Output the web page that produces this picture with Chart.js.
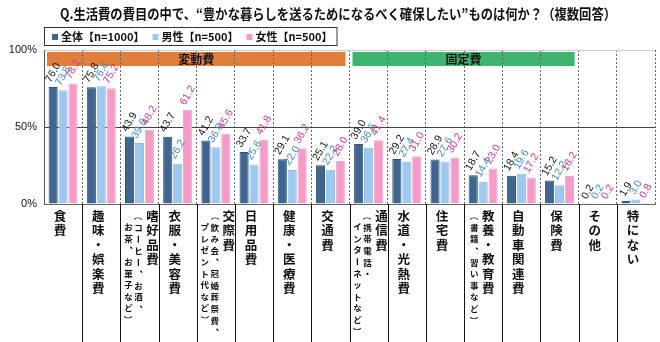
<!DOCTYPE html>
<html>
<head>
<meta charset="utf-8">
<script src="https://cdn.jsdelivr.net/npm/chart.js@4.4.0/dist/chart.umd.min.js"></script>
<style>
    html, body { margin: 0; padding: 0; background: #fff; }
    #wrap { width: 660px; height: 342px; }
</style>
</head>
<body>
<div id="wrap"><canvas id="grafico"></canvas></div>
<script>
// Dados
const titulo = 'Q.生活費の費目の中で、“豊かな暮らしを送るためになるべく確保したい”ものは何か？（複数回答）';
const categorias = ['食費', '趣味・娯楽費', '嗜好品費', '衣服・美容費', '交際費', '日用品費', '健康・医療費', '交通費',
    '通信費', '水道・光熱費', '住宅費', '教養・教育費', '自動車関連費', '保険費', 'その他', '特にない'];
const subRotulos = [[], [], ['（コーヒー、お酒、', 'お茶、お菓子など）'], [], ['（飲み会、冠婚葬祭費、', 'プレゼント代など）'], [], [], [],
    ['（携帯電話・', 'インターネットなど）'], [], [], ['（書籍、習い事など）'], [], [], [], []];
const series = ['全体【n=1000】', '男性【n=500】', '女性【n=500】'];
const valoresTotal = [76.0, 75.8, 43.9, 43.7, 41.2, 33.7, 29.1, 25.1, 39.0, 29.2, 28.9, 18.7, 18.4, 15.2, 0.2, 1.9];
const valoresHomens = [73.8, 76.4, 39.6, 26.2, 36.8, 25.6, 22.0, 22.2, 36.6, 27.4, 27.6, 14.4, 19.6, 12.2, 0.2, 3.0];
const valoresMulheres = [78.2, 75.2, 48.2, 61.2, 45.6, 41.8, 36.2, 28.0, 41.4, 31.0, 30.2, 23.0, 17.2, 18.2, 0.2, 0.8];
const grupos = ['変動費', '固定費'];
const gruposInicio = [0, 8];
const gruposFim = [7, 13];
const ticksY = [0, 50, 100];

const coresBarra = ['#3F6690', '#9DC9F1', '#F59BC8'];
const coresRotulo = ['#111', '#3A8DC6', '#D6348C'];
const coresGrupo = ['#E07E3A', '#3DB46F'];
const fonteJP = '"Noto Sans CJK JP", "Noto Sans", sans-serif';
const fonteNum = '"Liberation Sans", Arial, sans-serif';

// desenha uma coluna de texto vertical
function colunaVertical(ctx, texto, x, y0, passo) {
    [...texto].forEach((ch, i) => {
        const y = y0 + i * passo;
        ctx.save();
        if ('ー（）'.includes(ch)) {
            ctx.translate(x, y);
            ctx.rotate(Math.PI / 2);
            ctx.fillText(ch, 0, 0);
        } else if (ch === '、') {
            ctx.fillText(ch, x + passo * 0.45, y - passo * 0.45);
        } else {
            ctx.fillText(ch, x, y);
        }
        ctx.restore();
    });
}

const pluginDesenho = {
    id: 'desenho',
    beforeDraw(chart) {
        const { ctx, chartArea } = chart;
        const x = chart.scales.x;
        const meia = (x.getPixelForValue(1) - x.getPixelForValue(0)) / 2;
        ctx.save();
        grupos.forEach((nome, g) => {
            const esq = x.getPixelForValue(gruposInicio[g]) - meia + 3;
            const dir = x.getPixelForValue(gruposFim[g]) + meia - 4;
            ctx.fillStyle = coresGrupo[g];
            ctx.fillRect(esq, chartArea.top + 2, dir - esq, 14);
            ctx.fillStyle = '#111';
            ctx.font = 'bold 12px ' + fonteJP;
            ctx.textAlign = 'center';
            ctx.textBaseline = 'middle';
            ctx.fillText(nome, (esq + dir) / 2, chartArea.top + 9);
        });
        ctx.restore();
    },
    afterDraw(chart) {
        const { ctx, chartArea } = chart;
        const x = chart.scales.x;
        const meia = (x.getPixelForValue(1) - x.getPixelForValue(0)) / 2;
        ctx.save();

        // título
        ctx.fillStyle = '#111';
        ctx.font = 'bold 14px ' + fonteJP;
        ctx.textAlign = 'center';
        ctx.textBaseline = 'middle';
        ctx.fillText(titulo, 338, 14, 556);

        // legenda com caixa
        ctx.font = 'bold 11px ' + fonteJP;
        ctx.textAlign = 'left';
        let lx = 52;
        const ly = 37;
        const inicioLeg = 44;
        const posicoes = series.map((s) => {
            const p = lx;
            lx += 9 + ctx.measureText(s).width + 8;
            return p;
        });
        ctx.fillStyle = '#fff';
        ctx.fillRect(inicioLeg, 27, lx - inicioLeg, 19);
        ctx.strokeStyle = '#333';
        ctx.lineWidth = 1;
        ctx.strokeRect(inicioLeg + 0.5, 27.5, lx - inicioLeg - 4, 18);
        series.forEach((s, i) => {
            ctx.fillStyle = coresBarra[i];
            ctx.fillRect(posicoes[i], ly - 3, 6, 6);
            ctx.fillStyle = '#111';
            ctx.fillText(s, posicoes[i] + 9, ly);
        });

        // linhas separadoras abaixo do eixo
        ctx.strokeStyle = '#111';
        ctx.lineWidth = 1;
        for (let i = 1; i < categorias.length; i++) {
            const px = Math.round(x.getPixelForValue(i) - meia) + 0.5;
            ctx.beginPath();
            ctx.moveTo(px, chartArea.bottom);
            ctx.lineTo(px, chart.height);
            ctx.stroke();
        }

        // rótulos verticais das categorias
        ctx.fillStyle = '#111';
        ctx.textAlign = 'center';
        ctx.textBaseline = 'middle';
        categorias.forEach((cat, i) => {
            const cx = x.getPixelForValue(i);
            const subs = subRotulos[i];
            let xPrincipal = cx - 3;
            if (subs.length === 2) xPrincipal = cx + 13;
            if (subs.length === 1) xPrincipal = cx + 5;
            ctx.font = 'bold 12.5px ' + fonteJP;
            colunaVertical(ctx, cat, xPrincipal, chartArea.bottom + 12, 14.5);
            ctx.font = 'bold 8.5px ' + fonteJP;
            subs.forEach((s, k) => {
                const sx = xPrincipal - 14 - k * 10;
                const sy = chartArea.bottom + 12 + (k === 1 ? 11 : 0);
                colunaVertical(ctx, s, sx, sy, 11.6);
            });
        });

        // valores girados acima das barras
        ctx.font = '10.5px ' + fonteNum;
        chart.data.datasets.forEach((ds, d) => {
            const meta = chart.getDatasetMeta(d);
            meta.data.forEach((barra, i) => {
                const texto = ds.data[i].toFixed(1);
                const w = ctx.measureText(texto).width;
                const ang = Math.PI / 3;
                const h = w * Math.sin(ang) + 10 * Math.cos(ang);
                ctx.save();
                ctx.translate(barra.x, barra.y - 3 - h / 2);
                ctx.rotate(-ang);
                ctx.fillStyle = coresRotulo[d];
                ctx.fillText(texto, 0, 0);
                ctx.restore();
            });
        });
        ctx.restore();
    }
};

new Chart(document.getElementById('grafico'), {
    type: 'bar',
    data: {
        labels: categorias,
        datasets: [
            { label: series[0], data: valoresTotal, backgroundColor: coresBarra[0], borderColor: '#2F5277', borderWidth: 1 },
            { label: series[1], data: valoresHomens, backgroundColor: coresBarra[1], borderColor: '#8DBBE6', borderWidth: 1 },
            { label: series[2], data: valoresMulheres, backgroundColor: coresBarra[2], borderColor: '#F2A8CF', borderWidth: 1 }
        ]
    },
    options: {
        responsive: true,
        maintainAspectRatio: false,
        animation: false,
        categoryPercentage: 0.78,
        barPercentage: 0.92,
        layout: { padding: { top: 50, right: 5, left: 0, bottom: 0 } },
        plugins: { legend: { display: false }, tooltip: { enabled: false } },
        scales: {
            x: {
                grid: { color: '#666', drawTicks: false, offset: true },
                border: { color: '#666', dash: [2, 2] },
                ticks: { display: false },
                afterFit: (s) => { s.height = 138; }
            },
            y: {
                min: 0,
                max: 100,
                afterBuildTicks: (s) => { s.ticks = ticksY.map(v => ({ value: v })); },
                grid: {
                    drawTicks: false,
                    color: (c) => c.tick && c.tick.value === 50 ? '#444' : '#ccc'
                },
                border: { color: '#555' },
                ticks: {
                    padding: 7,
                    color: '#111',
                    font: { family: fonteNum, size: 11 },
                    callback: (v) => v + '%'
                },
                afterFit: (s) => { s.width = 44; }
            }
        }
    },
    plugins: [pluginDesenho]
});
</script>
</body>
</html>
